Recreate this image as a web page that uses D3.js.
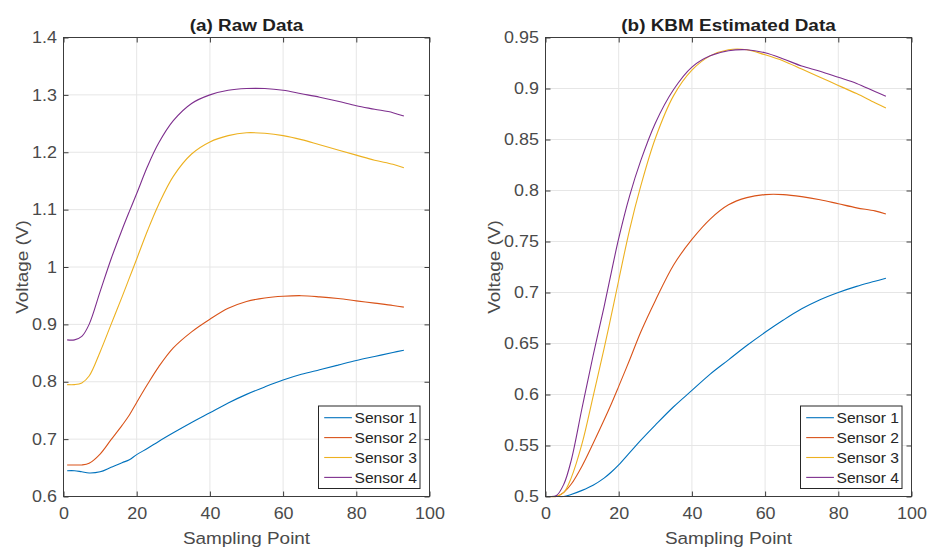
<!DOCTYPE html>
<html>
<head>
<meta charset="utf-8">
<script src="https://cdn.jsdelivr.net/npm/d3@7"></script>
<style>
  body { margin: 0; background: #fff; }
  svg { display: block; }
  text { font-family: "Liberation Sans", Arial, Helvetica, sans-serif; }
</style>
</head>
<body>
<svg id="chart" width="927" height="547"></svg>
<script>
// Sampling points at which each sensor trace is recorded
const sampleX = [1, 3, 5, 7, 10, 13, 16, 18, 20, 23, 26, 30, 35, 40, 45, 50, 55, 60, 65, 70, 75, 80, 85, 90, 93];

const seriesNames = ["Sensor 1", "Sensor 2", "Sensor 3", "Sensor 4"];

// (a) raw sensor voltages
const rawSensor1 = [0.645, 0.645, 0.643, 0.641, 0.643, 0.651, 0.659, 0.664, 0.673, 0.684, 0.696, 0.711, 0.729, 0.746, 0.763, 0.778, 0.791, 0.803, 0.813, 0.821, 0.829, 0.837, 0.844, 0.851, 0.855];
const rawSensor2 = [0.655, 0.655, 0.655, 0.658, 0.674, 0.699, 0.724, 0.742, 0.764, 0.796, 0.826, 0.859, 0.887, 0.909, 0.928, 0.940, 0.946, 0.949, 0.950, 0.948, 0.945, 0.941, 0.937, 0.933, 0.930];
const rawSensor3 = [0.795, 0.795, 0.798, 0.810, 0.852, 0.900, 0.948, 0.981, 1.014, 1.064, 1.109, 1.158, 1.197, 1.218, 1.229, 1.234, 1.233, 1.229, 1.222, 1.213, 1.204, 1.195, 1.186, 1.179, 1.173];
const rawSensor4 = [0.873, 0.873, 0.879, 0.900, 0.957, 1.014, 1.065, 1.097, 1.128, 1.176, 1.216, 1.255, 1.285, 1.300, 1.308, 1.311, 1.311, 1.308, 1.302, 1.296, 1.289, 1.281, 1.275, 1.269, 1.263];

// (b) KBM estimated voltages
const kbmSensor1 = [0.500, 0.500, 0.500, 0.502, 0.506, 0.511, 0.518, 0.524, 0.531, 0.543, 0.555, 0.570, 0.588, 0.604, 0.620, 0.634, 0.648, 0.661, 0.673, 0.684, 0.693, 0.700, 0.706, 0.711, 0.714];
const kbmSensor2 = [0.500, 0.500, 0.504, 0.512, 0.530, 0.552, 0.575, 0.591, 0.608, 0.634, 0.661, 0.692, 0.727, 0.752, 0.772, 0.786, 0.793, 0.796, 0.796, 0.794, 0.791, 0.787, 0.783, 0.780, 0.777];
const kbmSensor3 = [0.500, 0.500, 0.504, 0.518, 0.552, 0.598, 0.645, 0.678, 0.712, 0.762, 0.804, 0.851, 0.893, 0.918, 0.932, 0.938, 0.938, 0.933, 0.927, 0.919, 0.911, 0.903, 0.895, 0.886, 0.881];
const kbmSensor4 = [0.500, 0.501, 0.512, 0.535, 0.587, 0.638, 0.686, 0.720, 0.753, 0.795, 0.829, 0.866, 0.899, 0.921, 0.932, 0.937, 0.938, 0.935, 0.929, 0.922, 0.917, 0.911, 0.905, 0.897, 0.8925];

const xTicks = [0, 20, 40, 60, 80, 100];
const rawYTicks = [0.6, 0.7, 0.8, 0.9, 1.0, 1.1, 1.2, 1.3, 1.4];
const kbmYTicks = [0.5, 0.55, 0.6, 0.65, 0.7, 0.75, 0.8, 0.85, 0.9, 0.95];

const colors = ["#0072BD", "#D95319", "#EDB120", "#7E2F8E"];

const panels = [
  { title: "(a) Raw Data", series: [rawSensor1, rawSensor2, rawSensor3, rawSensor4],
    yDomain: [0.6, 1.4], yTicks: rawYTicks, left: 63.5, right: 429.5, labelX: 28 },
  { title: "(b) KBM Estimated Data", series: [kbmSensor1, kbmSensor2, kbmSensor3, kbmSensor4],
    yDomain: [0.5, 0.95], yTicks: kbmYTicks, left: 545.5, right: 911.5, labelX: 500 }
];

const plotTop = 37.5, plotBottom = 496.5;
const axisColor = "#3c3c3c";
const tickTextColor = "#4a4a4a";
const gridColor = "#e6e6e6";
const stretch = 1.1;   // horizontal stretch of the lettering
const fmt = d => String(+d.toFixed(2));

const svg = d3.select("#chart");

panels.forEach((p, pi) => {
  const x = d3.scaleLinear().domain([0, 100]).range([p.left, p.right]);
  const y = d3.scaleLinear().domain(p.yDomain).range([plotBottom, plotTop]);
  const g = svg.append("g");

  // grid
  g.append("g").selectAll("line").data(xTicks).join("line")
    .attr("x1", d => x(d)).attr("x2", d => x(d))
    .attr("y1", plotTop).attr("y2", plotBottom)
    .attr("stroke", gridColor).attr("stroke-width", 1);
  g.append("g").selectAll("line").data(p.yTicks).join("line")
    .attr("x1", p.left).attr("x2", p.right)
    .attr("y1", d => y(d)).attr("y2", d => y(d))
    .attr("stroke", gridColor).attr("stroke-width", 1);

  // data lines
  const clipId = "clip" + pi;
  svg.append("clipPath").attr("id", clipId).append("rect")
    .attr("x", p.left).attr("y", plotTop - 1)
    .attr("width", p.right - p.left).attr("height", plotBottom - plotTop + 2);
  const line = d3.line()
    .x((d, i) => x(sampleX[i]))
    .y(d => y(d))
    .curve(d3.curveCatmullRom.alpha(0.5));
  g.append("g").attr("clip-path", `url(#${clipId})`)
    .selectAll("path").data(p.series).join("path")
    .attr("d", d => line(d))
    .attr("fill", "none")
    .attr("stroke", (d, i) => colors[i])
    .attr("stroke-width", 1.1)
    .attr("stroke-linejoin", "round");

  // axes with inward ticks on all four sides
  const styleAxis = sel => {
    sel.select(".domain").remove();
    sel.selectAll(".tick line").attr("stroke", axisColor);
    sel.selectAll(".tick text")
      .attr("fill", tickTextColor)
      .style("font-size", "16.3px")
      .attr("transform", `scale(${stretch},1)`);
  };
  g.append("g").attr("transform", `translate(0,${plotBottom})`)
    .call(d3.axisBottom(x).tickValues(xTicks).tickFormat(fmt).tickSizeInner(-5).tickSizeOuter(0).tickPadding(11))
    .call(styleAxis);
  g.append("g").attr("transform", `translate(0,${plotTop})`)
    .call(d3.axisTop(x).tickValues(xTicks).tickFormat("").tickSizeInner(-5).tickSizeOuter(0))
    .call(styleAxis);
  g.append("g").attr("transform", `translate(${p.left},0)`)
    .call(d3.axisLeft(y).tickValues(p.yTicks).tickFormat(fmt).tickSizeInner(-5).tickSizeOuter(0).tickPadding(6))
    .call(styleAxis);
  g.append("g").attr("transform", `translate(${p.right},0)`)
    .call(d3.axisRight(y).tickValues(p.yTicks).tickFormat("").tickSizeInner(-5).tickSizeOuter(0))
    .call(styleAxis);

  // box
  g.append("rect")
    .attr("x", p.left).attr("y", plotTop)
    .attr("width", p.right - p.left).attr("height", plotBottom - plotTop)
    .attr("fill", "none").attr("stroke", axisColor).attr("stroke-width", 1);

  const cx = (p.left + p.right) / 2;
  // title
  g.append("text")
    .attr("transform", `translate(${cx},30.7) scale(${stretch},1)`)
    .attr("text-anchor", "middle")
    .attr("fill", "#1f1f1f")
    .style("font-size", "17.2px").style("font-weight", "bold")
    .text(p.title);
  // x label
  g.append("text")
    .attr("transform", `translate(${cx},544) scale(${stretch},1)`)
    .attr("text-anchor", "middle")
    .attr("fill", tickTextColor)
    .style("font-size", "17.2px")
    .text("Sampling Point");
  // y label
  g.append("text")
    .attr("transform", `translate(${p.labelX},${(plotTop + plotBottom) / 2}) rotate(-90) scale(${stretch},1)`)
    .attr("text-anchor", "middle")
    .attr("fill", tickTextColor)
    .style("font-size", "17.2px")
    .text("Voltage (V)");

  // legend (lower right)
  const lw = 101.5, lh = 82.5;
  const lx = p.right - 9.5 - lw, ly = plotBottom - 8 - lh;
  const lg = g.append("g").attr("transform", `translate(${lx},${ly})`);
  lg.append("rect").attr("x", 0).attr("y", 0).attr("width", lw).attr("height", lh)
    .attr("fill", "#fff").attr("stroke", "#262626").attr("stroke-width", 1);
  const rows = lg.selectAll("g.row").data(seriesNames).join("g")
    .attr("class", "row")
    .attr("transform", (d, i) => `translate(0,${11.7 + i * 19.9})`);
  rows.append("line").attr("x1", 5.7).attr("x2", 33.4).attr("y1", 0).attr("y2", 0)
    .attr("stroke", (d, i) => colors[i]).attr("stroke-width", 1.1);
  rows.append("text")
    .attr("transform", `translate(36,5.5) scale(1.04,1)`)
    .attr("fill", "#262626")
    .style("font-size", "15px")
    .text(d => d);
});
</script>
</body>
</html>
